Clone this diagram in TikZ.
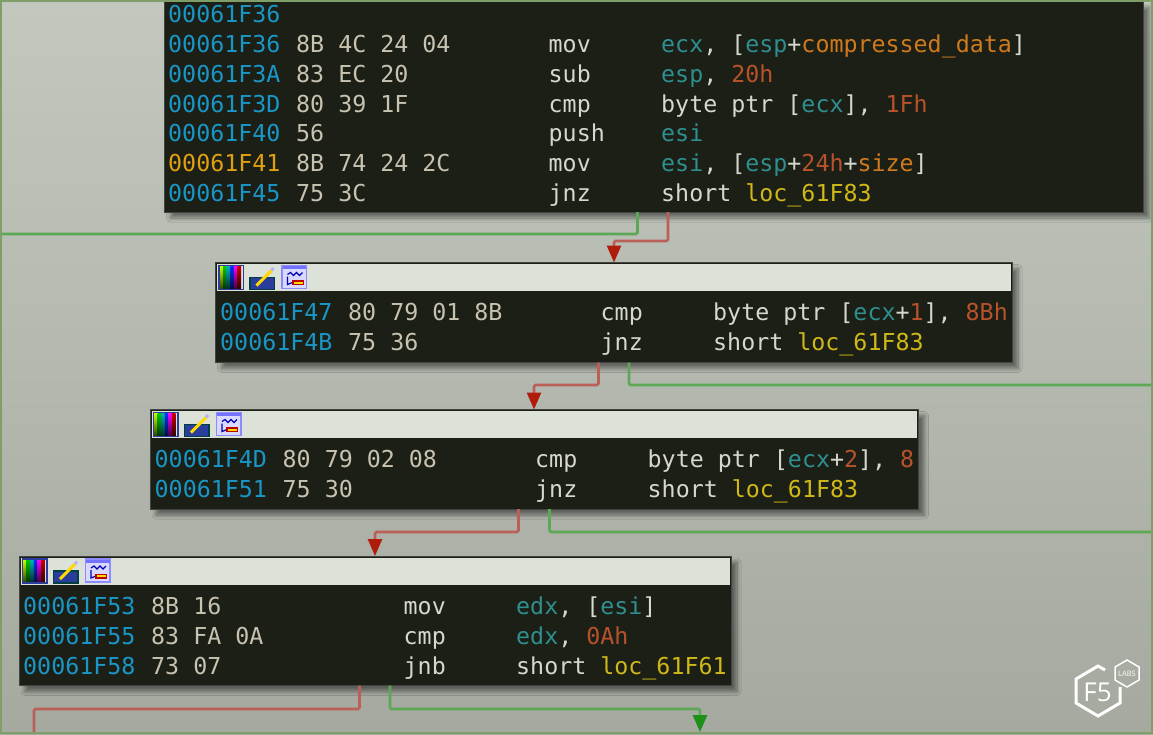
\documentclass[tikz,border=0pt]{standalone}
\usepackage{fontspec}
\setmonofont{DejaVu Sans Mono}
\newfontfamily\logofont{Open Sans}
\usepackage{xcolor}
\usetikzlibrary{positioning,arrows.meta,shadows.blur}
\definecolor{bgtop}{HTML}{C3C8BF}
\definecolor{bgbot}{HTML}{A5A99F}
\definecolor{blockbg}{HTML}{1B1F16}
\definecolor{titlebg}{HTML}{DCE2D8}
\definecolor{addrc}{HTML}{1A96C6}
\definecolor{addrhi}{HTML}{E0A010}
\definecolor{bytec}{HTML}{C8C2B0}
\definecolor{insc}{HTML}{D6D8CC}
\definecolor{regc}{HTML}{2F8F8F}
\definecolor{numc}{HTML}{B8522A}
\definecolor{varc}{HTML}{D07A1E}
\definecolor{locc}{HTML}{D0B818}
\definecolor{edgered}{HTML}{BB6058}
\definecolor{edgegreen}{HTML}{5CA855}
\definecolor{tipred}{HTML}{B01C0C}
\definecolor{tipgreen}{HTML}{1E9018}
\definecolor{frameg}{HTML}{7F9F68}
\definecolor{penblue}{HTML}{2A3C9C}
\newcommand{\rg}[1]{\textcolor{regc}{#1}}
\newcommand{\nm}[1]{\textcolor{numc}{#1}}
\newcommand{\lc}[1]{\textcolor{locc}{#1}}
\begin{document}
\begin{tikzpicture}[x=1pt,y=-1pt,
    block/.style={fill=blockbg,draw=black!60!bgbot,line width=1pt,anchor=north west,inner sep=0pt,outer sep=0pt,blur shadow={shadow xshift=6pt,shadow yshift=-6pt,shadow blur radius=4pt,shadow blur steps=8,shadow opacity=45}},
    titlebar/.style={fill=titlebg,anchor=north west,inner sep=0pt,outer sep=0pt,minimum height=27pt},
    asm/.style={anchor=base west,inner sep=0pt,font=\fontsize{23.3}{24}\ttfamily,text=insc},
    rededge/.style={edgered,line width=2.6pt,rounded corners=1.5pt,-{Triangle[length=17pt,width=14pt,color=tipred,fill=tipred]}},
    greenedge/.style={edgegreen,line width=2.6pt,rounded corners=1.5pt},
    greentip/.style={-{Triangle[length=17pt,width=14pt,color=tipgreen,fill=tipgreen]}},
    iconbar/.pic={
      \foreach \cc/\ii in {yellow!80!green/0,green!80!black/1,cyan!70!black/2,blue!80!cyan/3,magenta/4,red!80!black/5}
        \shade[top color=\cc,bottom color=\cc!25!black] (4+3.6*\ii,3.5) rectangle (7.6+3.6*\ii,26.5);
      \draw[penblue,line width=1.4pt] (3.5,3) rectangle (28,27);
      \fill[penblue] (34.5,15) rectangle (59,27);
      \draw[teal!50!black,line width=1.2pt] (34.5,15) rectangle (59,27);
      \draw[orange!30!yellow,line width=3pt] (41,23) -- (56,8);
      \draw[blue!30!white,line width=3pt] (56,8) -- (58,5.5);
      \fill[blue!15!white] (66.5,3) rectangle (91,26);
      \draw[blue!45!white,line width=1.2pt] (66.5,3) rectangle (91,26);
      \fill[blue!55!white] (67,3.5) rectangle (90.5,6.5);
      \draw[blue!70!black,line width=1.2pt] (72,12) -- (75,10) -- (78,13) -- (81,10) -- (84,13) -- (87,10);
      \draw[blue!70!black,line width=1.2pt] (72,14) -- (72,22) -- (77,20);
      \fill[red!75!black] (76,17.5) rectangle (88,22.5);
      \fill[yellow!80!orange] (78,19) rectangle (87,21);
    }
  ]
    \useasboundingbox (0,0) rectangle (1153,734);
    \shade[top color=bgtop,bottom color=bgbot] (0,0) rectangle (1153,734);
    % blocks
    \node[block,minimum width=979pt,minimum height=211pt] (entry) at (164.5,1) {};
    \node[block,minimum width=796.5pt,minimum height=100pt] (sig) at (215.5,262.5) {};
    \node[block,minimum width=768.5pt,minimum height=99.5pt] (method) at (150,409.5) {};
    \node[block,minimum width=712pt,minimum height=129.5pt] (check) at (19,556) {};
    \node[titlebar,minimum width=793.5pt] (sigbar) at (217,264) {};
    \node[titlebar,minimum width=765.5pt] (methodbar) at (151.5,411) {};
    \node[titlebar,minimum width=709pt] (checkbar) at (20.5,557.5) {};
    \pic at (sig.north west) {iconbar};
    \pic at (method.north west) {iconbar};
    \pic at (check.north west) {iconbar};
    % free ends
    \coordinate (leftout) at (0,234);
    \coordinate (rightsig) at (1153,385);
    \coordinate (rightmethod) at (1153,532);
    \coordinate (offred) at (34,734);
    \coordinate (offgreen) at (700,732);
    % edges
    \draw[greenedge] ([xshift=473pt]entry.south west) |- (leftout);
    \draw[rededge] ([xshift=503.5pt]entry.south west) -- ++(0,29) -| ([xshift=398.5pt]sig.north west);
    \draw[rededge] ([xshift=383pt]sig.south west) -- ++(0,22.5) -| ([xshift=384pt]method.north west);
    \draw[greenedge] ([xshift=413.5pt]sig.south west) |- (rightsig);
    \draw[rededge] ([xshift=368.5pt]method.south west) -- ++(0,23) -| ([xshift=356pt]check.north west);
    \draw[greenedge] ([xshift=399.5pt]method.south west) |- (rightmethod);
    \draw[rededge,-] ([xshift=340.5pt]check.south west) -- ++(0,23.5) -| (offred);
    \draw[greenedge,greentip] ([xshift=371pt]check.south west) -- ++(0,23.5) -| (offgreen);
    % frame
    \draw[frameg,line width=2pt] (1,1) rectangle (1151.5,733);
    % listing
    \foreach \xx/\yy/\aa/\bb/\mm/\oo in {
      168/22/00061F36/{}/{}/{},
      168/52/00061F36/8B 4C 24 04/mov/{\rg{ecx}, [\rg{esp}+\textcolor{varc}{compressed\_data}]},
      168/82/00061F3A/83 EC 20/sub/{\rg{esp}, \nm{20h}},
      168/112/00061F3D/80 39 1F/cmp/{byte ptr [\rg{ecx}], \nm{1Fh}},
      168/141/00061F40/56/push/{\rg{esi}},
      168/201/00061F45/75 3C/jnz/{short \lc{loc\_61F83}},
      220/320/00061F47/80 79 01 8B/cmp/{byte ptr [\rg{ecx}+\nm{1}], \nm{8Bh}},
      220/350/00061F4B/75 36/jnz/{short \lc{loc\_61F83}},
      154.5/467/00061F4D/80 79 02 08/cmp/{byte ptr [\rg{ecx}+\nm{2}], \nm{8}},
      154.5/497/00061F51/75 30/jnz/{short \lc{loc\_61F83}},
      23/614/00061F53/8B 16/mov/{\rg{edx}, [\rg{esi}]},
      23/644/00061F55/83 FA 0A/cmp/{\rg{edx}, \nm{0Ah}},
      23/674/00061F58/73 07/jnb/{short \lc{loc\_61F61}}}{
      \node[asm,text=addrc] (addr\yy) at (\xx,\yy) {\aa};
      \node[asm,text=bytec] (bytes\yy) at (\xx+128,\yy) {\bb};
      \node[asm] (mnem\yy) at (\xx+380.5,\yy) {\mm};
      \node[asm] (oper\yy) at (\xx+493,\yy) {\oo};
    }
    \node[asm,text=addrhi] (addrhot) at (168,171) {00061F41};
    \node[asm,text=bytec] (byteshot) at (296,171) {8B 74 24 2C};
    \node[asm] (mnemhot) at (548.5,171) {mov};
    \node[asm] (operhot) at (661,171) {\rg{esi}, [\rg{esp}+\nm{24h}+\textcolor{varc}{size}]};
    % logo
    \draw[white,line width=3pt,line join=miter] (1105,670) -- (1098,666) -- (1076,679) -- (1076,703) -- (1098,716) -- (1120,703) -- (1120,687);
    \node[inner sep=0pt,text=white,font=\logofont\fontsize{26}{26}\selectfont] (logoF) at (1097.5,692) {F5};
    \draw[white,line width=1.5pt] (1127,660) -- (1139,667) -- (1139,680) -- (1127,687) -- (1115,680) -- (1115,667) -- cycle;
    \node[inner sep=0pt,text=white,font=\logofont\fontsize{7.5}{8}\selectfont] (logoL) at (1127,673.5) {LABS};
  \end{tikzpicture}
\end{document}
